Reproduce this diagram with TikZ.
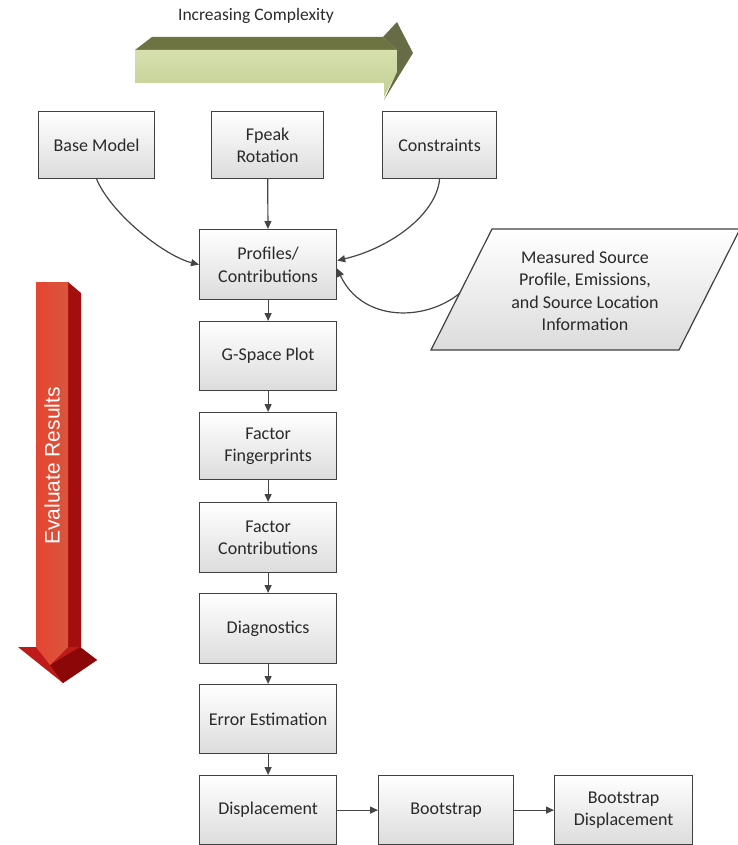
\documentclass[tikz,border=0pt]{standalone}
\usepackage{fontspec}
\setmainfont{Carlito}
\newfontfamily\arialf{Liberation Sans}
\usetikzlibrary{arrows.meta}
\definecolor{boxline}{HTML}{404040}
\definecolor{boxbot}{HTML}{DCDCDC}
\definecolor{textc}{HTML}{2A2A2A}
\definecolor{arrc}{HTML}{454545}
\definecolor{gtop}{HTML}{6E7342}
\definecolor{ghead}{HTML}{686C46}
\definecolor{gfronttop}{HTML}{D6E0AE}
\definecolor{gfrontbot}{HTML}{C2CF92}
\definecolor{rside}{HTML}{A30E0E}
\definecolor{rhead}{HTML}{BE1A1A}
\definecolor{rheaddark}{HTML}{8C0808}
\definecolor{rleft}{HTML}{E54633}
\definecolor{rmid}{HTML}{E8876A}
\definecolor{rright}{HTML}{D8553C}
\begin{document}
\begin{tikzpicture}[x=1pt,y=-1pt,
  box/.style={draw=boxline, line width=1.2pt, top color=white, bottom color=boxbot,
    minimum width=137pt, minimum height=69pt, align=center,
    font=\fontsize{18}{22.5}\selectfont, text=textc, inner sep=0pt, anchor=north west},
  conn/.style={draw=arrc, line width=1.2pt, -{Triangle[length=8pt,width=7pt]}},
  lbl/.style={text=textc, font=\fontsize{17.5}{21}\selectfont, inner sep=0pt}
]
\useasboundingbox (0,0) rectangle (738,845);

% green arrow (Increasing Complexity)
\fill[gtop] (135,50) -- (152,37) -- (383,37) -- (397,50) -- cycle;
\shade[top color=gfronttop, bottom color=gfrontbot] (135,50) -- (397,50) -- (397,72) -- (384,97) -- (384,83) -- (135,83) -- cycle;
\fill[ghead] (383,37) -- (397,22) -- (413,53) -- (384,100) -- (397,72) -- (397,50) -- cycle;
\node[lbl] (inc) at (256,16) {Increasing Complexity};

% red arrow (Evaluate Results)
\fill[rside] (68,282) -- (81,293) -- (81,647) -- (68,647) -- cycle;
\fill[rhead] (18,647) -- (80,647) -- (97,660) -- (63,683) -- cycle;
\fill[rheaddark] (50,665) -- (80,647) -- (97,660) -- (63,683) -- cycle;
\shade[left color=rleft, middle color=rmid, right color=rright] (36,282) -- (68,282) -- (68,647) -- (50,665) -- (36,647) -- cycle;
\node[rotate=90, text=white, font=\arialf\fontsize{21}{21}\selectfont, inner sep=0pt] (eval) at (52,466) {Evaluate Results};

% top row
\node[box, minimum width=116pt, minimum height=67pt] (base) at (38,111) {Base Model};
\node[box, minimum width=112pt, minimum height=67pt] (fpeak) at (211,111) {Fpeak\\Rotation};
\node[box, minimum width=114pt, minimum height=67pt] (cons) at (382,111) {Constraints};

% main column
\node[box, minimum height=70pt] (prof) at (199,229) {Profiles/\\Contributions};
\node[box] (gsp) at (199,321) {G-Space Plot};
\node[box, minimum height=67pt] (ff) at (199,412) {Factor\\Fingerprints};
\node[box, minimum height=70pt] (fc) at (199,502) {Factor\\Contributions};
\node[box, minimum height=70pt] (diag) at (199,593) {Diagnostics};
\node[box] (err) at (199,684) {Error Estimation};
\node[box] (disp) at (199,775) {Displacement};
\node[box, minimum width=135pt] (boot) at (378,775) {Bootstrap};
\node[box, minimum width=138pt] (bdisp) at (554,775) {Bootstrap\\Displacement};

% measured source parallelogram
\path[draw=boxline, line width=1.2pt, top color=white, bottom color=boxbot]
  (492,229) -- (740,229) -- (679,350) -- (431,350) -- cycle;
\node[align=center, text=textc, font=\fontsize{18}{22.5}\selectfont, inner sep=0pt] (meas) at (585,291)
  {Measured Source\\Profile, Emissions,\\and Source Location\\Information};
\coordinate (measL) at (460,293);

% connectors
\draw[conn] (fpeak) -- (prof);
\draw[conn] (base.south) .. controls (112,215) and (165,256) .. (prof.west);
\draw[conn] (cons.south) .. controls (436,215) and (390,248) .. ([yshift=4pt]prof.east);
\draw[conn] (measL) .. controls (425,322) and (362,322) .. ([yshift=-4pt]prof.east);
\draw[conn] (prof) -- (gsp);
\draw[conn] (gsp) -- (ff);
\draw[conn] (ff) -- (fc);
\draw[conn] (fc) -- (diag);
\draw[conn] (diag) -- (err);
\draw[conn] (err) -- (disp);
\draw[conn] (disp) -- (boot);
\draw[conn] (boot) -- (bdisp);
\end{tikzpicture}
\end{document}
